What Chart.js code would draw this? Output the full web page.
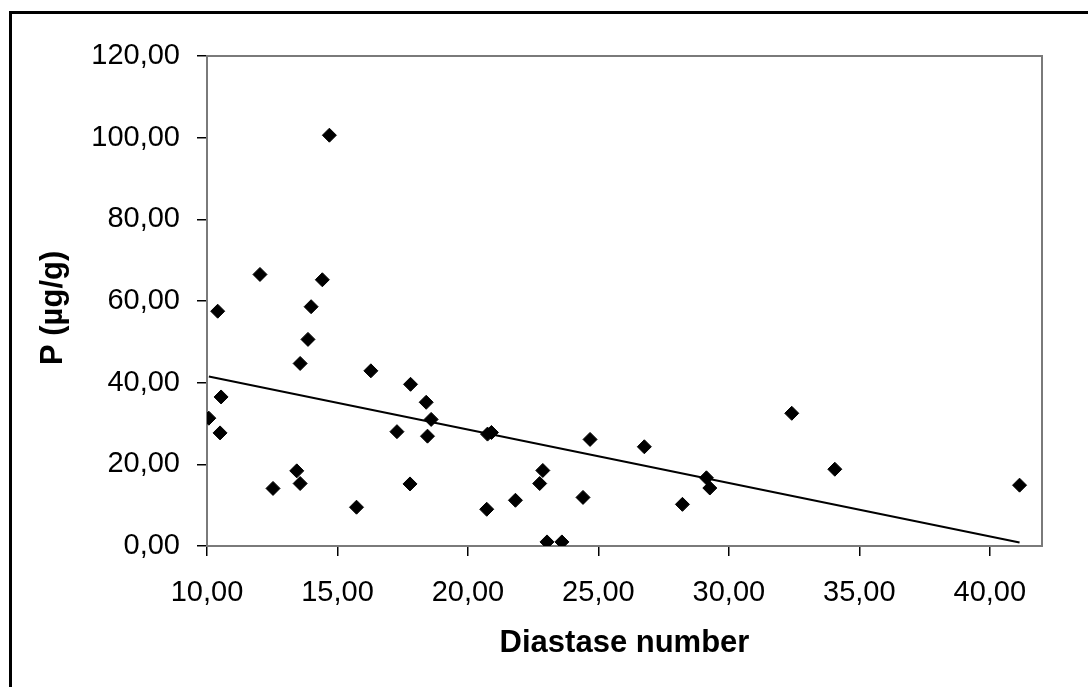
<!DOCTYPE html>
<html>
<head>
<meta charset="utf-8">
<script src="https://cdn.jsdelivr.net/npm/chart.js@4.4.1/dist/chart.umd.min.js"></script>
<style>
    html, body { margin: 0; padding: 0; background: #fff; }
    #wrap { position: relative; width: 1088px; height: 687px; overflow: hidden; }
    #frame {
        position: absolute; left: 9px; top: 11px; right: -10px; bottom: -10px;
        border-left: 3px solid #000; border-top: 3px solid #000;
    }
    #chart { position: absolute; left: 0; top: 0; }
</style>
</head>
<body>
<div id="wrap">
    <div id="frame"></div>
    <canvas id="chart" width="1088" height="687"></canvas>
</div>
<script>
// Diastase number (x) vs P in µg/g (y)
const diastase = [
    10.07, 10.41, 10.50, 10.54, 12.03, 12.53, 13.44, 13.57, 13.57, 13.87,
    13.99, 14.42, 14.69, 15.73, 16.28, 17.28, 17.78, 17.80, 18.40, 18.45,
    18.59, 20.72, 20.75, 20.90, 21.82, 22.75, 22.87, 23.03, 23.60, 24.41,
    24.68, 26.76, 28.22, 29.14, 29.27, 32.41, 34.06, 41.14
];
const phosphorus = [
    31.3, 57.5, 27.7, 36.5, 66.5, 14.1, 18.4, 15.3, 44.7, 50.6,
    58.6, 65.2, 100.6, 9.5, 42.9, 28.0, 15.2, 39.6, 35.2, 26.9,
    31.0, 9.0, 27.4, 27.8, 11.2, 15.3, 18.5, 1.0, 1.0, 11.9,
    26.1, 24.3, 10.2, 16.7, 14.2, 32.5, 18.8, 14.9
];
const xTicks = [10, 15, 20, 25, 30, 35, 40];
const yTicks = [0, 20, 40, 60, 80, 100, 120];

const xTitle = 'Diastase number';
const yTitle = 'P (µg/g)';

// Linear trend line (least squares), drawn from min x to max x
function linearFit(xs, ys) {
    const n = xs.length;
    const mx = xs.reduce((a, b) => a + b, 0) / n;
    const my = ys.reduce((a, b) => a + b, 0) / n;
    let sxy = 0, sxx = 0;
    for (let i = 0; i < n; i++) {
        sxy += (xs[i] - mx) * (ys[i] - my);
        sxx += (xs[i] - mx) * (xs[i] - mx);
    }
    const slope = sxy / sxx;
    return { slope: slope, intercept: my - slope * mx };
}
const fit = linearFit(diastase, phosphorus);
const xMin = Math.min(...diastase);
const xMax = Math.max(...diastase);
const trend = [xMin, xMax].map(x => ({ x: x, y: fit.intercept + fit.slope * x }));

const points = diastase.map((x, i) => ({ x: x, y: phosphorus[i] }));

const fmt = v => v.toFixed(2).replace('.', ',');
const fontFamily = "'Liberation Sans', Arial, sans-serif";
const tickFont = { family: fontFamily, size: 29 };
const titleFont = { family: fontFamily, size: 31, weight: 'bold' };

// Plot area border (grey box like the spreadsheet chart)
const plotBorder = {
    id: 'plotBorder',
    beforeDatasetsDraw(chart) {
        const { ctx, chartArea: a } = chart;
        ctx.save();
        ctx.strokeStyle = '#7a7a7a';
        ctx.lineWidth = 2;
        ctx.strokeRect(a.left, a.top, a.right - a.left, a.bottom - a.top);
        ctx.restore();
    }
};

// Vertical axis title, starting a little below the plot's middle
const yTitlePlugin = {
    id: 'yTitle',
    afterDraw(chart) {
        const ctx = chart.ctx;
        ctx.save();
        ctx.font = 'bold 31px ' + fontFamily;
        ctx.fillStyle = '#000';
        ctx.textAlign = 'left';
        ctx.textBaseline = 'middle';
        ctx.translate(53, 365);
        ctx.rotate(-Math.PI / 2);
        ctx.fillText(yTitle, 0, 0);
        ctx.restore();
    }
};

new Chart(document.getElementById('chart').getContext('2d'), {
    type: 'scatter',
    data: {
        datasets: [
            {
                type: 'line',
                data: trend,
                borderColor: '#000',
                borderWidth: 2,
                pointRadius: 0,
                fill: false,
                order: 2
            },
            {
                data: points,
                pointStyle: 'rectRot',
                pointRadius: 7,
                pointHoverRadius: 7,
                backgroundColor: '#000',
                borderColor: '#000',
                borderWidth: 1,
                order: 1
            }
        ]
    },
    options: {
        responsive: false,
        animation: false,
        layout: { padding: { left: 0, top: 56, right: 46, bottom: 0 } },
        plugins: {
            legend: { display: false },
            tooltip: { enabled: false }
        },
        scales: {
            x: {
                type: 'linear',
                min: 10,
                max: 42,
                afterBuildTicks: s => { s.ticks = xTicks.map(v => ({ value: v })); },
                afterFit: s => { s.height = 141; },
                border: { color: '#000', width: 2 },
                grid: { drawOnChartArea: false, tickLength: 10, color: '#000', lineWidth: 1.5 },
                ticks: { color: '#000', font: tickFont, padding: 20, autoSkip: false, maxRotation: 0, callback: fmt },
                title: { display: true, text: xTitle, color: '#000', font: titleFont, padding: { top: 0, bottom: 25 } }
            },
            y: {
                min: 0,
                max: 120,
                afterBuildTicks: s => { s.ticks = yTicks.map(v => ({ value: v })); },
                afterFit: s => { s.width = 207; },
                border: { color: '#7a7a7a', width: 2 },
                grid: { drawOnChartArea: false, tickLength: 10, color: '#000', lineWidth: 1.5 },
                ticks: { color: '#000', font: tickFont, padding: 17, callback: fmt },
                title: { display: false }
            }
        }
    },
    plugins: [plotBorder, yTitlePlugin]
});
</script>
</body>
</html>
